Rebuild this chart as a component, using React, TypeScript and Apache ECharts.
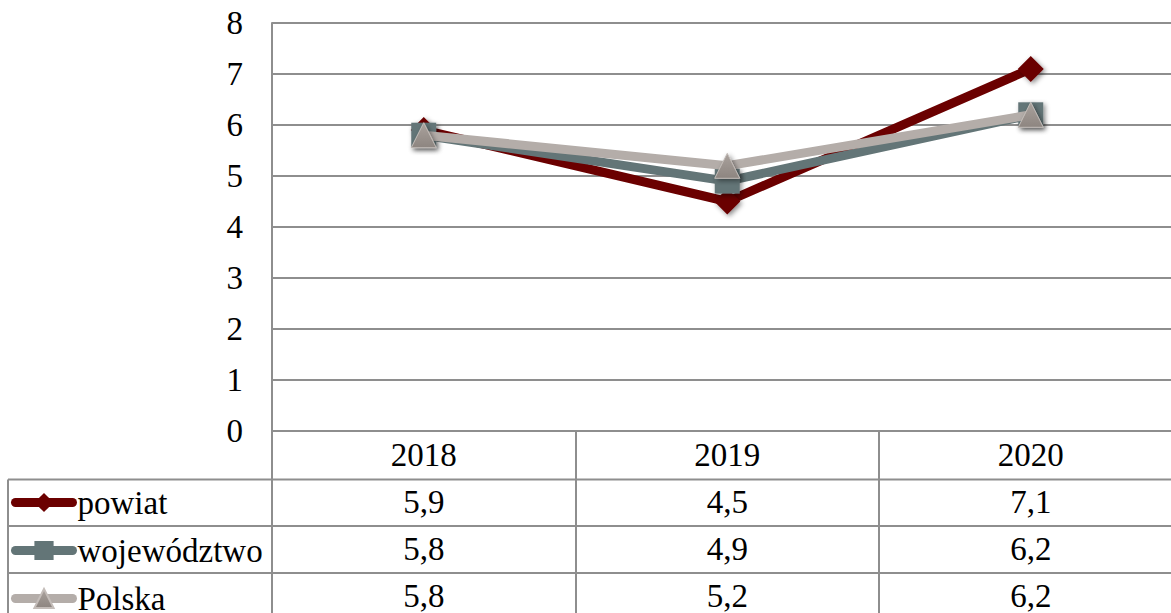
import React, { useEffect, useRef } from "react";
import * as echarts from "echarts";

const categories = ["2018", "2019", "2020"];
const seriesNames = ["powiat", "województwo", "Polska"];
const powiat = [5.9, 4.5, 7.1];
const wojewodztwo = [5.8, 4.9, 6.2];
const polska = [5.8, 5.2, 6.2];
const yTicks = [0, 1, 2, 3, 4, 5, 6, 7, 8];

const FONT = "Liberation Serif";
const GRID = "#8e8e8e";

const fmt = (v: number) => v.toFixed(1).replace(".", ",");

export default function App() {
  const ref = useRef<HTMLDivElement>(null);
  useEffect(() => {
    document.body.style.margin = "0";
    document.body.style.overflow = "hidden";
    const chart = echarts.init(ref.current!, null, { renderer: "svg" });
    const all = [powiat, wojewodztwo, polska];
    const shadow = {
      shadowBlur: 5,
      shadowColor: "rgba(0,0,0,0.45)",
      shadowOffsetX: 2,
      shadowOffsetY: 2,
    };
    chart.setOption({
      animation: false,
      textStyle: { fontFamily: FONT },
      grid: {
        left: 272,
        top: 23,
        bottom: 182,
        right: -11.5,
        containLabel: false,
        outerBoundsMode: "none",
      },
      legend: {
        orient: "vertical",
        left: 11,
        top: 486,
        height: 300,
        padding: 0,
        itemGap: 15,
        itemWidth: 57,
        itemHeight: 24,
        data: seriesNames,
        lineStyle: { width: 9, cap: "round" },
        textStyle: { fontFamily: FONT, fontSize: 33, color: "#000", lineHeight: 30 },
      },
      xAxis: {
        type: "category",
        data: categories,
        boundaryGap: true,
        axisLine: { show: true, lineStyle: { color: GRID, width: 2 } },
        axisTick: { show: true, length: 182, lineStyle: { color: GRID, width: 2 } },
        splitLine: { show: false },
        axisLabel: {
          interval: 0,
          margin: 0,
          verticalAlign: "top",
          fontFamily: FONT,
          fontSize: 33,
          color: "#000",
          lineHeight: 47,
          formatter: (val: string) => {
            const i = categories.indexOf(val);
            return [val, ...all.map((s) => fmt(s[i]))].join("\n");
          },
        },
      },
      yAxis: {
        type: "value",
        min: yTicks[0],
        max: yTicks[yTicks.length - 1],
        interval: 1,
        axisLine: { show: true, lineStyle: { color: GRID, width: 2 } },
        axisTick: { show: false },
        splitLine: { show: true, lineStyle: { color: GRID, width: 2 } },
        axisLabel: { margin: 29, fontFamily: FONT, fontSize: 33, color: "#000" },
      },
      series: [
        {
          name: seriesNames[0],
          type: "line",
          data: powiat,
          z: 2,
          symbol: "diamond",
          symbolSize: 26,
          lineStyle: { color: "#6b0000", width: 9 },
          itemStyle: { color: "#6b0000", ...shadow },
        },
        {
          name: seriesNames[1],
          type: "line",
          data: wojewodztwo,
          z: 3,
          symbol: "rect",
          symbolSize: 25,
          lineStyle: { color: "#637577", width: 9 },
          itemStyle: { color: "#637577", ...shadow },
        },
        {
          name: seriesNames[2],
          type: "line",
          data: polska,
          z: 4,
          symbol: "triangle",
          symbolSize: 25,
          lineStyle: { color: "#b4ada9", width: 9 },
          itemStyle: {
            color: new echarts.graphic.LinearGradient(0, 0, 0, 1, [
              { offset: 0, color: "#aaa29d" },
              { offset: 1, color: "#8d8580" },
            ]),
            borderColor: "#c4bdb9",
            borderWidth: 1,
            ...shadow,
          },
        },
      ],
      graphic: [
        { type: "line", shape: { x1: 8, y1: 479.5, x2: 1171, y2: 479.5 }, style: { stroke: GRID, lineWidth: 2 } },
        { type: "line", shape: { x1: 8, y1: 526, x2: 1171, y2: 526 }, style: { stroke: GRID, lineWidth: 2 } },
        { type: "line", shape: { x1: 8, y1: 573, x2: 1171, y2: 573 }, style: { stroke: GRID, lineWidth: 2 } },
        { type: "line", shape: { x1: 8, y1: 479.5, x2: 8, y2: 613 }, style: { stroke: GRID, lineWidth: 2 } },
      ],
    });
    return () => chart.dispose();
  }, []);
  return (
    <div
      ref={ref}
      style={{ position: "absolute", left: 0, top: 0, width: 1171, height: 613, background: "#fff" }}
    />
  );
}
